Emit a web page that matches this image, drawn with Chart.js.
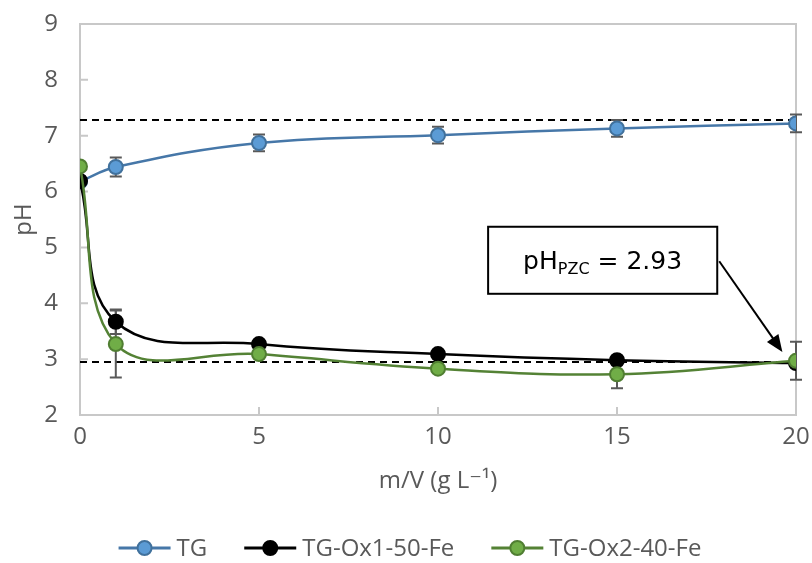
<!DOCTYPE html>
<html>
<head>
<meta charset="utf-8">
<script src="https://cdn.jsdelivr.net/npm/chart.js@4.4.1/dist/chart.umd.min.js"></script>
<style>
  html, body { margin: 0; padding: 0; background: #fff; }
  #wrap { width: 812px; height: 563px; }
</style>
</head>
<body>
<div id="wrap"><canvas id="chart-ph"></canvas></div>
<script>
// data
const doseValues = [0, 1, 5, 10, 15, 20];
const phTG = [6.18, 6.44, 6.87, 7.01, 7.13, 7.22];
const errTG = [0, 0.17, 0.15, 0.15, 0.15, 0.16];
const phOx1 = [6.19, 3.67, 3.27, 3.09, 2.98, 2.93];
const errOx1 = [0, 0.22, 0, 0, 0, 0];
const phOx2 = [6.45, 3.27, 3.09, 2.83, 2.73, 2.97];
const errOx2 = [0, 0.6, 0, 0, 0.25, 0.34];
const refLines = [7.28, 2.95];
const pzcValue = 2.93;
const yTicks = [2, 3, 4, 5, 6, 7, 8, 9];
const xTicks = [0, 5, 10, 15, 20];

const toPoints = (ys) => doseValues.map((x, i) => ({ x: x, y: ys[i] }));
const errorData = [errTG, errOx1, errOx2];
const FONT = '"Open Sans", "DejaVu Sans", sans-serif';

// frame, inside ticks, dashed reference lines, error bars, note box, legend
const decorPlugin = {
  id: 'decor',
  beforeDatasetsDraw(chart) {
    const { ctx, chartArea: a, scales: { x, y } } = chart;
    ctx.save();
    ctx.strokeStyle = '#c8c8c8';
    ctx.lineWidth = 2;
    ctx.strokeRect(a.left, a.top, a.right - a.left, a.bottom - a.top);
    ctx.beginPath();
    yTicks.forEach(v => {
      const py = y.getPixelForValue(v);
      ctx.moveTo(a.left, py); ctx.lineTo(a.left + 8, py);
    });
    xTicks.forEach(v => {
      const px = x.getPixelForValue(v);
      ctx.moveTo(px, a.bottom); ctx.lineTo(px, a.bottom - 8);
    });
    ctx.stroke();

    ctx.strokeStyle = '#000';
    ctx.lineWidth = 2;
    ctx.setLineDash([7, 5]);
    refLines.forEach(v => {
      const py = y.getPixelForValue(v);
      ctx.beginPath(); ctx.moveTo(a.left, py); ctx.lineTo(a.right, py); ctx.stroke();
    });
    ctx.setLineDash([]);

    ctx.strokeStyle = '#595959';
    ctx.lineWidth = 2;
    chart.data.datasets.forEach((ds, di) => {
      ds.data.forEach((p, i) => {
        const e = errorData[di][i];
        if (!e) return;
        const px = x.getPixelForValue(p.x);
        const top = y.getPixelForValue(p.y + e);
        const bot = y.getPixelForValue(p.y - e);
        ctx.beginPath();
        ctx.moveTo(px, top); ctx.lineTo(px, bot);
        ctx.moveTo(px - 6, top); ctx.lineTo(px + 6, top);
        ctx.moveTo(px - 6, bot); ctx.lineTo(px + 6, bot);
        ctx.stroke();
      });
    });
    ctx.restore();
  },
  afterDatasetsDraw(chart) {
    const { ctx, scales: { x, y } } = chart;
    ctx.save();
    const bx1 = x.getPixelForValue(11.4), bx2 = x.getPixelForValue(17.8);
    const by1 = y.getPixelForValue(5.37), by2 = y.getPixelForValue(4.17);
    ctx.fillStyle = '#fff';
    ctx.fillRect(bx1, by1, bx2 - bx1, by2 - by1);
    ctx.strokeStyle = '#000';
    ctx.lineWidth = 2;
    ctx.strokeRect(bx1, by1, bx2 - bx1, by2 - by1);

    // pH_PZC = 2.93
    ctx.fillStyle = '#000';
    ctx.textBaseline = 'alphabetic';
    const base = (by1 + by2) / 2 + 9;
    let tx = bx1 + 35;
    ctx.font = '25px "DejaVu Sans"';
    ctx.fillText('pH', tx, base);
    tx += ctx.measureText('pH').width;
    ctx.font = '16px "DejaVu Sans"';
    ctx.fillText('PZC', tx, base + 5);
    tx += ctx.measureText('PZC').width;
    ctx.font = '25px "DejaVu Sans"';
    ctx.fillText(' = ' + pzcValue.toFixed(2), tx, base);

    // arrow
    const sx = bx2 + 2, sy = (by1 + by2) / 2 + 1;
    const ex = x.getPixelForValue(19.62), ey = y.getPixelForValue(3.13);
    const ang = Math.atan2(ey - sy, ex - sx);
    ctx.lineWidth = 2;
    ctx.beginPath(); ctx.moveTo(sx, sy);
    ctx.lineTo(ex - 10 * Math.cos(ang), ey - 10 * Math.sin(ang)); ctx.stroke();
    ctx.beginPath();
    ctx.moveTo(ex, ey);
    ctx.lineTo(ex - 17 * Math.cos(ang) + 7 * Math.sin(ang), ey - 17 * Math.sin(ang) - 7 * Math.cos(ang));
    ctx.lineTo(ex - 17 * Math.cos(ang) - 7 * Math.sin(ang), ey - 17 * Math.sin(ang) + 7 * Math.cos(ang));
    ctx.closePath(); ctx.fill();
    ctx.restore();
  },
  afterDraw(chart) {
    // legend: line-with-marker keys, centred under the chart
    const { ctx } = chart;
    const symW = 52, gapText = 6, gapItem = 37, cy = 548;
    ctx.save();
    ctx.font = '24px ' + FONT;
    ctx.textBaseline = 'middle';
    const items = chart.data.datasets.map(ds => ({ ds, w: ctx.measureText(ds.label).width }));
    const total = items.reduce((s, it) => s + symW + gapText + it.w, 0) + gapItem * (items.length - 1);
    let cx = chart.width / 2 + 4 - total / 2;
    items.forEach(({ ds, w }) => {
      ctx.strokeStyle = ds.borderColor;
      ctx.lineWidth = 3;
      ctx.beginPath(); ctx.moveTo(cx, cy); ctx.lineTo(cx + symW, cy); ctx.stroke();
      ctx.fillStyle = ds.pointBackgroundColor;
      ctx.strokeStyle = ds.pointBorderColor;
      ctx.lineWidth = 2;
      ctx.beginPath(); ctx.arc(cx + symW / 2, cy, 7, 0, Math.PI * 2); ctx.fill(); ctx.stroke();
      ctx.fillStyle = '#595959';
      ctx.fillText(ds.label, cx + symW + gapText, cy + 1);
      cx += symW + gapText + w + gapItem;
    });
    ctx.restore();
  }
};

const tickFont = { family: FONT, size: 24 };

new Chart(document.getElementById('chart-ph').getContext('2d'), {
  type: 'line',
  data: {
    datasets: [
      {
        label: 'TG',
        data: toPoints(phTG),
        borderColor: '#4677a8',
        backgroundColor: '#5b9bd5',
        pointBackgroundColor: '#5b9bd5',
        pointBorderColor: '#41719c',
        order: 3
      },
      {
        label: 'TG-Ox1-50-Fe',
        data: toPoints(phOx1),
        borderColor: '#000',
        backgroundColor: '#000',
        pointBackgroundColor: '#000',
        pointBorderColor: '#000',
        order: 2
      },
      {
        label: 'TG-Ox2-40-Fe',
        data: toPoints(phOx2),
        borderColor: '#548235',
        backgroundColor: '#70ad47',
        pointBackgroundColor: '#70ad47',
        pointBorderColor: '#507e32',
        order: 1
      }
    ]
  },
  options: {
    responsive: true,
    maintainAspectRatio: false,
    animation: false,
    layout: { padding: { left: 0, right: 16, top: 24, bottom: 58 } },
    elements: {
      line: { borderWidth: 2.5, tension: 0.4, fill: false },
      point: { radius: 7, hoverRadius: 7, borderWidth: 2, pointStyle: 'circle' }
    },
    plugins: {
      legend: { display: false },
      tooltip: { enabled: false }
    },
    scales: {
      x: {
        type: 'linear',
        min: 0,
        max: 20,
        grid: { display: false, drawTicks: false },
        border: { display: false },
        afterBuildTicks: (s) => { s.ticks = xTicks.map(v => ({ value: v })); },
        afterFit: (s) => {
          s.height = 90;
          s.paddingLeft = 0; s.paddingRight = 0;
        },
        ticks: { color: '#595959', font: tickFont, padding: 8, maxRotation: 0 },
        title: {
          display: true,
          text: 'm/V (g L⁻¹)',
          color: '#595959',
          font: tickFont,
          padding: { top: 0, bottom: 9 }
        }
      },
      y: {
        min: 2,
        max: 9,
        grid: { display: false, drawTicks: false },
        border: { display: false },
        afterBuildTicks: (s) => { s.ticks = yTicks.map(v => ({ value: v })); },
        afterFit: (s) => {
          s.width = 80;
          s.paddingTop = 0; s.paddingBottom = 0;
        },
        ticks: { color: '#595959', font: tickFont, padding: 22 },
        title: {
          display: true,
          text: 'pH',
          color: '#595959',
          font: tickFont,
          padding: { top: 10, bottom: 0 }
        }
      }
    }
  },
  plugins: [decorPlugin]
});
</script>
</body>
</html>
